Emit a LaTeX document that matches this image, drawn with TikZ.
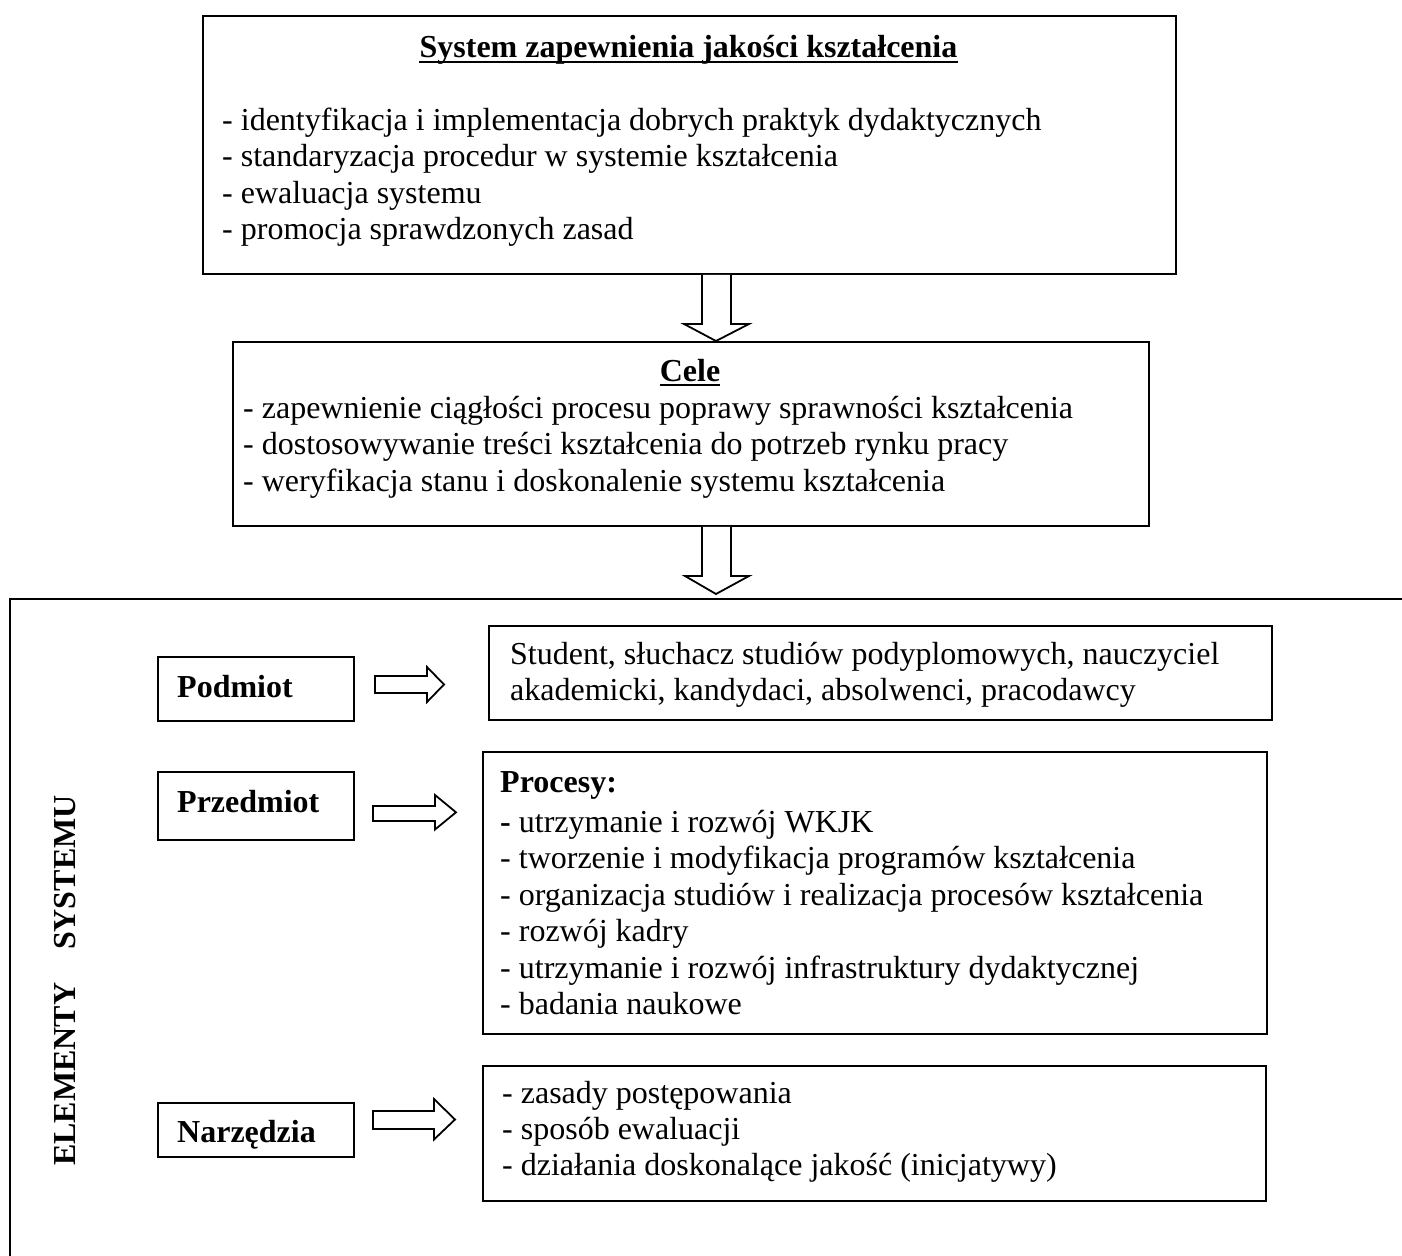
\documentclass[tikz,border=0pt]{standalone}
\usepackage{fontspec}
\setmainfont{Liberation Serif}
\usetikzlibrary{calc}
\tikzset{
  box/.style={draw, line width=1.8pt, inner sep=0pt, anchor=north west},
  txt/.style={inner sep=0pt, anchor=base west, font=\fontsize{32}{36}\selectfont},
  lbl/.style={inner sep=0pt, anchor=base west, font=\fontsize{32}{36}\selectfont\bfseries},
  blk/.style={draw, line width=1.8pt, fill=white, line join=miter},
  uline/.style={line width=1.6pt},
}
\begin{document}
\begin{tikzpicture}[x=1pt,y=-1pt]
\useasboundingbox (0,0) rectangle (1402,1255);

% outer frame (only top and left visible)
\draw[line width=1.8pt] (1403,599) -- (10,599) -- (10,1257);

% top box
\node[box, minimum width=973pt, minimum height=258pt] (topbox) at (202,15) {};
\node[lbl, anchor=base] (t0) at (688.5,58) {System zapewnienia jakości kształcenia};
\draw[uline] ($(t0.base west)+(0,4)$) -- ($(t0.base east)+(0,4)$);
\node[txt] (t1) at (222,130) {- identyfikacja i implementacja dobrych praktyk dydaktycznych};
\node[txt] (t2) at (222,166.5) {- standaryzacja procedur w systemie kształcenia};
\node[txt] (t3) at (222,203) {- ewaluacja systemu};
\node[txt] (t4) at (222,239.5) {- promocja sprawdzonych zasad};

% cele box
\node[box, minimum width=916pt, minimum height=184pt] (celebox) at (232,341) {};
\node[lbl, anchor=base] (c0) at (690,381) {Cele};
\draw[uline] ($(c0.base west)+(0,4)$) -- ($(c0.base east)+(0,4)$);
\node[txt] (c1) at (243,418) {- zapewnienie ciągłości procesu poprawy sprawności kształcenia};
\node[txt] (c2) at (243,454.5) {- dostosowywanie treści kształcenia do potrzeb rynku pracy};
\node[txt] (c3) at (243,491) {- weryfikacja stanu i doskonalenie systemu kształcenia};

% down arrows
\draw[blk] (702,0 |- topbox.south) -- (702,324) -- (684,324) -- (716,0 |- celebox.north)
  -- (749,324) -- (731,324) -- (731,0 |- topbox.south);
\coordinate (frametop) at (716,594);
\draw[blk] (702,0 |- celebox.south) -- (702,576) -- (685,576) -- (frametop)
  -- (749,576) -- (731,576) -- (731,0 |- celebox.south);

% vertical label
\node[lbl, rotate=90, anchor=base west] (el1) at (75,1166) {ELEMENTY};
\node[lbl, rotate=90, anchor=base east] (el2) at (75,795) {SYSTEMU};

% Podmiot
\node[box, minimum width=196pt, minimum height=64pt] (podbox) at (157,656) {};
\node[lbl] (podlbl) at (177,697) {Podmiot};
\draw[blk] (375,676) -- (427,676) -- (427,667) -- (444,684.5) -- (427,702) -- (427,693) -- (375,693) -- cycle;
\node[box, minimum width=783pt, minimum height=94pt] (podcont) at (488,625) {};
\node[txt] (p1) at (510,664) {Student, słuchacz studiów podyplomowych, nauczyciel};
\node[txt] (p2) at (510,700.5) {akademicki, kandydaci, absolwenci, pracodawcy};

% Przedmiot
\node[box, minimum width=196pt, minimum height=68pt] (przbox) at (157,771) {};
\node[lbl] (przlbl) at (177,812) {Przedmiot};
\draw[blk] (373,806) -- (435,806) -- (435,795) -- (456,812.3) -- (435,829.5) -- (435,821) -- (373,821) -- cycle;
\node[box, minimum width=784pt, minimum height=282pt] (przcont) at (482,751) {};
\node[lbl] (r0) at (500,792) {Procesy:};
\node[txt] (r1) at (500,832) {\textbf{-} utrzymanie i rozwój WKJK};
\node[txt] (r2) at (500,868.5) {- tworzenie i modyfikacja programów kształcenia};
\node[txt] (r3) at (500,905) {- organizacja studiów i realizacja procesów kształcenia};
\node[txt] (r4) at (500,941.5) {- rozwój kadry};
\node[txt] (r5) at (500,978) {- utrzymanie i rozwój infrastruktury dydaktycznej};
\node[txt] (r6) at (500,1014.5) {- badania naukowe};

% Narzedzia
\node[box, minimum width=196pt, minimum height=54pt] (narbox) at (157,1102) {};
\node[lbl] (narlbl) at (177,1142) {Narzędzia};
\draw[blk] (373,1111) -- (434,1111) -- (434,1099) -- (455,1119.5) -- (434,1139.5) -- (434,1129) -- (373,1129) -- cycle;
\node[box, minimum width=783pt, minimum height=135pt] (narcont) at (482,1065) {};
\node[txt] (n1) at (502,1103) {- zasady postępowania};
\node[txt] (n2) at (502,1139) {- sposób ewaluacji};
\node[txt] (n3) at (502,1175) {- działania doskonalące jakość (inicjatywy)};
\end{tikzpicture}
\end{document}
